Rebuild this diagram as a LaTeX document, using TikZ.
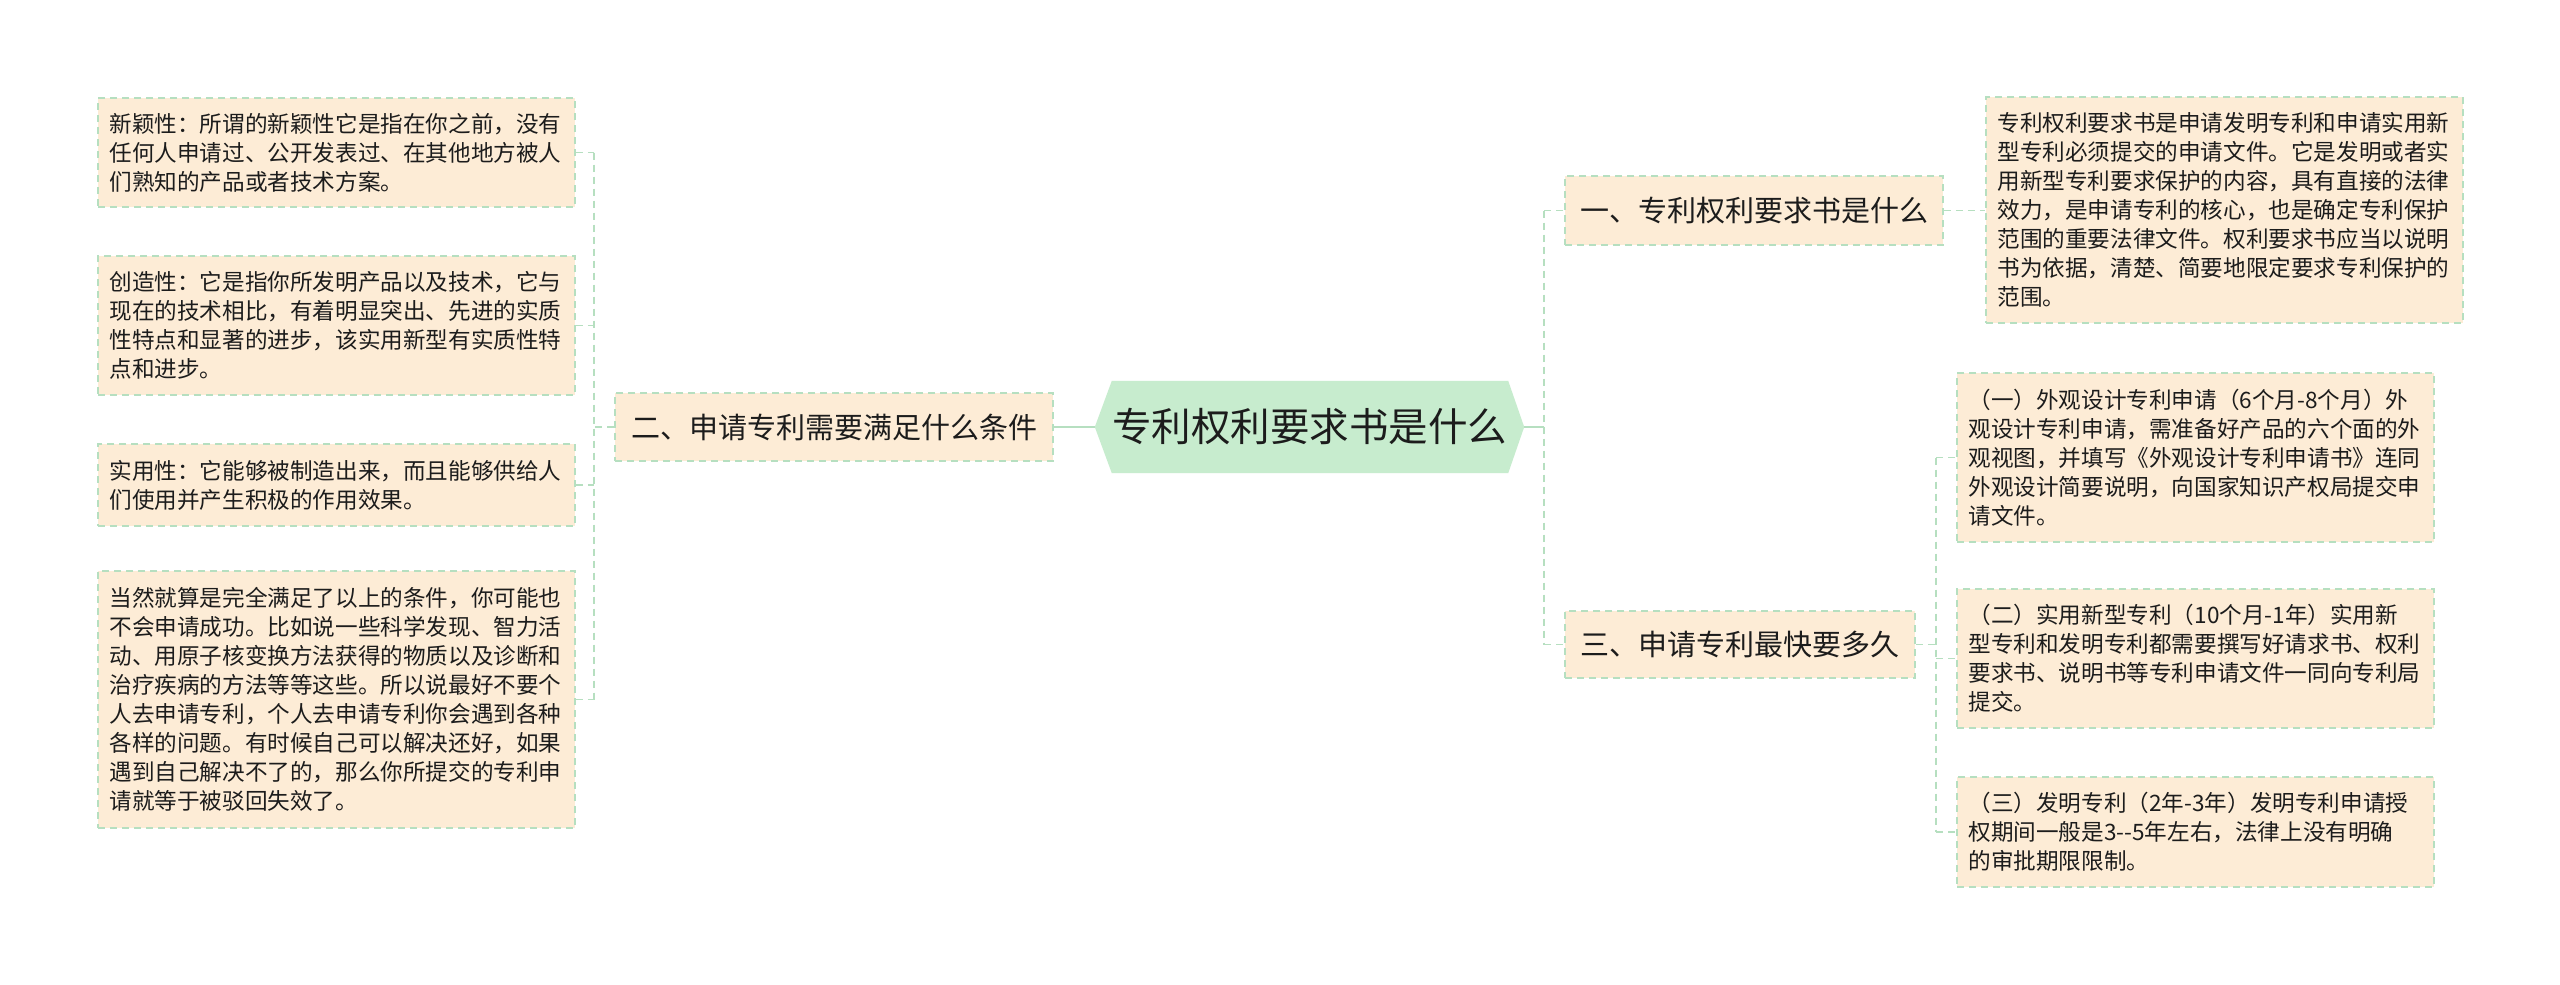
\documentclass[tikz,border=0pt]{standalone}
\usepackage{fontspec}
\setmainfont{Noto Sans CJK SC}
\usetikzlibrary{backgrounds}
\definecolor{leaffill}{RGB}{253,236,214}
\definecolor{edgegreen}{RGB}{182,223,192}
\definecolor{rootfill}{RGB}{199,236,206}
\definecolor{txt}{RGB}{28,28,28}
\begin{document}
\begin{tikzpicture}[x=1pt,y=-1pt,
  leaf/.style={draw=edgegreen, fill=leaffill, line width=1.6pt, dash pattern=on 7pt off 5pt,
    text=txt, font=\fontsize{22.6}{29}\selectfont, align=left, text width=454pt,
    inner xsep=11.5pt, inner ysep=0pt, minimum width=477pt, anchor=center},
  mid/.style={draw=edgegreen, fill=leaffill, line width=1.6pt, dash pattern=on 7pt off 5pt,
    text=txt, font=\fontsize{29}{34}\selectfont, inner sep=0pt, anchor=center},
  rootbox/.style={text=txt, font=\fontsize{39.5}{44}\selectfont, inner sep=0pt,
    minimum width=429pt, minimum height=92pt, anchor=center},
  conn/.style={draw=edgegreen, line width=1.6pt, dash pattern=on 7pt off 5pt},
  solidconn/.style={draw=edgegreen, line width=2pt}]

\useasboundingbox (0,0) rectangle (2560,985);

% root
\node[rootbox] (root) at (1309.5,427) {专利权利要求书是什么};
\begin{scope}[on background layer]
  \fill[white] (0,0) rectangle (2560,985);
  \fill[rootfill] (root.west) -- ([xshift=17pt]root.north west) -- ([xshift=-16pt]root.north east)
    -- (root.east) -- ([xshift=-16pt]root.south east) -- ([xshift=17pt]root.south west) -- cycle;
\end{scope}

% left branch
\node[mid, minimum width=438pt, minimum height=68pt] (B2) at (834,427) {二、申请专利需要满足什么条件};
\node[leaf, minimum height=109pt] (L1) at (336.5,152.5) {新颖性：所谓的新颖性它是指在你之前，没有\\任何人申请过、公开发表过、在其他地方被人\\们熟知的产品或者技术方案。};
\node[leaf, minimum height=139pt] (L2) at (336.5,325.5) {创造性：它是指你所发明产品以及技术，它与\\现在的技术相比，有着明显突出、先进的实质\\性特点和显著的进步，该实用新型有实质性特\\点和进步。};
\node[leaf, minimum height=82pt] (L3) at (336.5,485) {实用性：它能够被制造出来，而且能够供给人\\们使用并产生积极的作用效果。};
\node[leaf, minimum height=257pt] (L4) at (336.5,699.5) {当然就算是完全满足了以上的条件，你可能也\\不会申请成功。比如说一些科学发现、智力活\\动、用原子核变换方法获得的物质以及诊断和\\治疗疾病的方法等等这些。所以说最好不要个\\人去申请专利，个人去申请专利你会遇到各种\\各样的问题。有时候自己可以解决还好，如果\\遇到自己解决不了的，那么你所提交的专利申\\请就等于被驳回失效了。};

% right branch
\node[mid, minimum width=378pt, minimum height=69pt] (B1) at (1754,210.5) {一、专利权利要求书是什么};
\node[mid, minimum width=350pt, minimum height=67pt] (B3) at (1740,644.5) {三、申请专利最快要多久};
\node[leaf, minimum height=226pt] (R0) at (2224.5,210) {专利权利要求书是申请发明专利和申请实用新\\型专利必须提交的申请文件。它是发明或者实\\用新型专利要求保护的内容，具有直接的法律\\效力，是申请专利的核心，也是确定专利保护\\范围的重要法律文件。权利要求书应当以说明\\书为依据，清楚、简要地限定要求专利保护的\\范围。};
\node[leaf, minimum height=169pt] (R1) at (2195.5,457.5) {（一）外观设计专利申请（6个月-8个月）外\\观设计专利申请，需准备好产品的六个面的外\\观视图，并填写《外观设计专利申请书》连同\\外观设计简要说明，向国家知识产权局提交申\\请文件。};
\node[leaf, minimum height=139pt] (R2) at (2195.5,658.5) {（二）实用新型专利（10个月-1年）实用新\\型专利和发明专利都需要撰写好请求书、权利\\要求书、说明书等专利申请文件一同向专利局\\提交。};
\node[leaf, minimum height=110pt] (R3) at (2195.5,832) {（三）发明专利（2年-3年）发明专利申请授\\权期间一般是3-{}-5年左右，法律上没有明确\\的审批期限限制。};

% spine coordinates
\coordinate (sL) at (594,427);
\coordinate (sR) at (1544,427);
\coordinate (s3) at (1936,644.5);

% connectors: root
\draw[solidconn] (B2.east) -- (root.west);
\draw[solidconn] (root.east) -- (sR);

% left
\draw[conn] (B2.west) -- (sL);
\draw[conn] (sL |- L1.east) -- (sL |- L4.east);
\draw[conn] (L1.east) -- (sL |- L1.east);
\draw[conn] (L2.east) -- (sL |- L2.east);
\draw[conn] (L3.east) -- (sL |- L3.east);
\draw[conn] (L4.east) -- (sL |- L4.east);

% right
\draw[conn] (sR |- B1.west) -- (sR |- B3.west);
\draw[conn] (sR |- B1.west) -- (B1.west);
\draw[conn] (sR |- B3.west) -- (B3.west);
\draw[conn] (B1.east) -- (R0.west |- B1.east);

\draw[conn] (B3.east) -- (s3);
\draw[conn] (s3 |- R1.west) -- (s3 |- R3.west);
\draw[conn] (s3 |- R1.west) -- (R1.west);
\draw[conn] (s3 |- R2.west) -- (R2.west);
\draw[conn] (s3 |- R3.west) -- (R3.west);
\end{tikzpicture}
\end{document}
